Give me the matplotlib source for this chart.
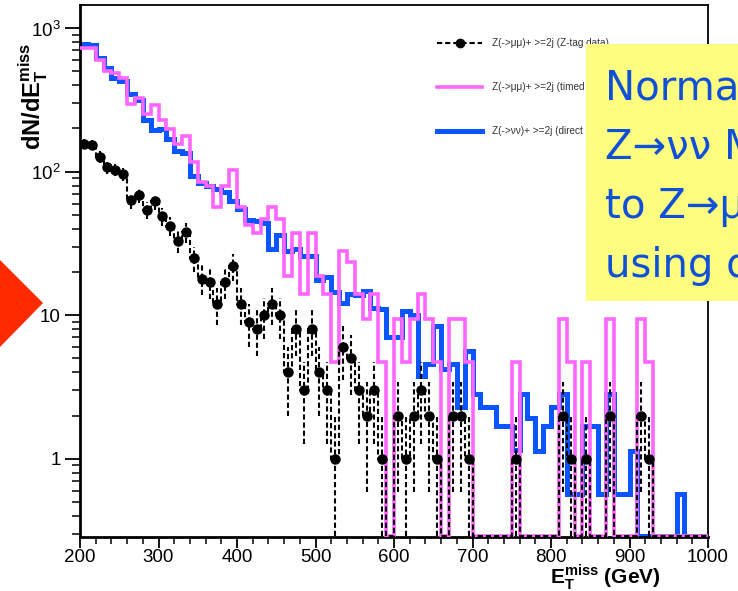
import numpy as np
import matplotlib.pyplot as plt
from matplotlib.patches import Polygon, Rectangle
from matplotlib.lines import Line2D
from matplotlib.ticker import MultipleLocator, FixedLocator, FixedFormatter, LogLocator, NullFormatter

plt.rcParams['font.family'] = ['Liberation Sans', 'DejaVu Sans']
plt.rcParams['mathtext.fontset'] = 'custom'
plt.rcParams['mathtext.rm'] = 'Liberation Sans'
plt.rcParams['mathtext.bf'] = 'Liberation Sans:bold'

# 10 GeV bins of missing ET
edges = np.arange(200, 1001, 10)

# Z(->mumu)+>=2j, Z-tag data (event counts per bin)
ztag = [156, 154, 127, 107, 103, 96, 63, 69, 54, 62,
        49, 42, 33, 38, 25, 18, 17, 12, 17, 22,
        12, 9, 8, 10, 12, 10, 4, 8, 3, 8,
        4, 3, 1, 6, 5, 3, 2, 3, 1, 0,
        2, 1, 2, 3, 2, 1, 0, 2, 2, 1,
        0, 0, 0, 0, 0, 1, 0, 0, 0, 0,
        0, 2, 1, 0, 1, 0, 0, 2, 0, 0,
        0, 2, 1, 0, 0, 0, 0, 0, 0, 0]

# Z(->nunu)+>=2j, direct MC
znunu = [770, 760, 617, 528, 450, 430, 347, 315, 230, 196,
         198, 168, 140, 134, 94, 84, 80, 76, 72, 62,
         55, 46, 45, 44, 29, 36.5, 28, 29, 26, 26,
         17.5, 18.5, 14.5, 12.2, 14, 13.8, 14.8, 11.3, 11, 7,
         7, 10.7, 10, 3.8, 4.6, 8.4, 4.2, 4.6, 2.3, 5.65,
         2.83, 2.29, 2.29, 1.7, 1.7, 1.15, 2.83, 1.92, 1.14, 1.7,
         2.29, 2.83, 0.57, 0.57, 1.7, 1.7, 0.57, 2.83, 0.57, 0.57,
         1.14, 0, 0, 0, 0, 0, 0.57, 0, 0, 0]

# data scaled to the nunu expectation ("timed")
norm = 4.7

ymin, ymax = 0.285, 1450
W, H = 738, 591


def fpos(x, y):
    return x / W, 1 - y / H


def floored(v):
    return np.maximum(np.asarray(v, float), ymin * 1.01)


n = np.array(ztag, float)
timed = n * norm
centers = edges[:-1] + 5

fig = plt.figure(figsize=(W / 100, H / 100), dpi=100)
ax = fig.add_axes([80 / W, 54 / H, 628 / W, 532 / H])

blue = '#0a55ff'
pink = '#ff66ff'
dash = (0, (2.5, 1.4))

ax.stairs(floored(znunu), edges, baseline=None, color=blue, lw=3.6, zorder=2)
ax.stairs(floored(timed), edges, baseline=None, color=pink, lw=2.6, zorder=3)
ax.stairs(floored(n), edges, baseline=None, color='k', lw=1.5, ls=dash, zorder=4)

m = n > 0
err = np.sqrt(n[m])
lo = np.minimum(err, n[m] - ymin * 1.01)
eb = ax.errorbar(centers[m], n[m], yerr=[lo, err], xerr=5, fmt='o', color='k',
                 ms=6.5, elinewidth=1.5, capsize=0, zorder=5)
for c in eb[2]:
    c.set_linestyle(dash)

ax.set_yscale('log')
ax.set_xlim(200, 1000)
ax.set_ylim(ymin, ymax)

ax.xaxis.set_major_locator(MultipleLocator(100))
ax.xaxis.set_minor_locator(MultipleLocator(20))
ax.yaxis.set_major_locator(FixedLocator([1, 10, 100, 1000]))
ax.yaxis.set_major_formatter(FixedFormatter(['1', '10', r'$10^{2}$', r'$10^{3}$']))
ax.yaxis.set_minor_locator(LogLocator(subs=np.arange(2, 10)))
ax.yaxis.set_minor_formatter(NullFormatter())

ax.tick_params(axis='y', which='major', direction='out', length=11, width=1.3, labelsize=13.5, pad=3)
ax.tick_params(axis='y', which='minor', direction='out', length=6, width=1.1)
ax.tick_params(axis='x', which='major', direction='out', length=8, width=1.3, labelsize=13.5, pad=1)
ax.tick_params(axis='x', which='minor', direction='out', length=5, width=1.1)
for s in ['left', 'bottom']:
    ax.spines[s].set_linewidth(2)
for s in ['top', 'right']:
    ax.spines[s].set_linewidth(1.3)

fig.text(*fpos(33, 96), r'dN/dE$_{\mathbf{T}}^{\mathbf{miss}}$', rotation=90,
         ha='center', va='center', fontsize=17, fontweight='bold')
fig.text(*fpos(661, 584), r'E$_{\mathbf{T}}^{\mathbf{miss}}$ (GeV)',
         ha='right', va='baseline', fontsize=15, fontweight='bold')

# legend
leg = [('k', 1.5, dash, True, 'Z(->\u03bc\u03bc)+ >=2j (Z-tag data)', 43),
       (pink, 2.6, '-', False, 'Z(->\u03bc\u03bc)+ >=2j (timed data)', 87),
       (blue, 3.6, '-', False, 'Z(->\u03bd\u03bd)+ >=2j (direct MC)', 131)]
for col, lw, ls, mk, label, y in leg:
    x0, yy = fpos(437, y)
    x1, _ = fpos(482, y)
    fig.add_artist(Line2D([x0, x1], [yy, yy], color=col, lw=lw, ls=ls, zorder=1))
    if mk:
        fig.add_artist(Line2D([(x0 + x1) / 2], [yy], marker='o', ms=6, color='k', zorder=1))
    fig.text(*fpos(492, y), label, fontsize=7.2, color='#333333', va='center', zorder=1)

# note box
bx, by = fpos(586, 301)
fig.add_artist(Rectangle((bx, by), 1 - bx, (301 - 44) / H, transform=fig.transFigure,
                         facecolor='#fdfd80', edgecolor='none', zorder=5))
note = ['Normalize', 'Z\u2192\u03bd\u03bd MC', 'to Z\u2192\u03bc\u03bc', 'using data']
for i, line in enumerate(note):
    fig.text(*fpos(605, 100 + 59 * i), line, fontsize=29, color='#1050d8',
             family=['DejaVu Sans'], va='baseline', zorder=6)

# arrow tip on the left edge
fig.add_artist(Polygon([fpos(0, 260), fpos(43, 303), fpos(0, 347)], closed=True,
                       transform=fig.transFigure, facecolor='#ff2a00', edgecolor='none', zorder=5))

fig.savefig('out.png', dpi=100)
